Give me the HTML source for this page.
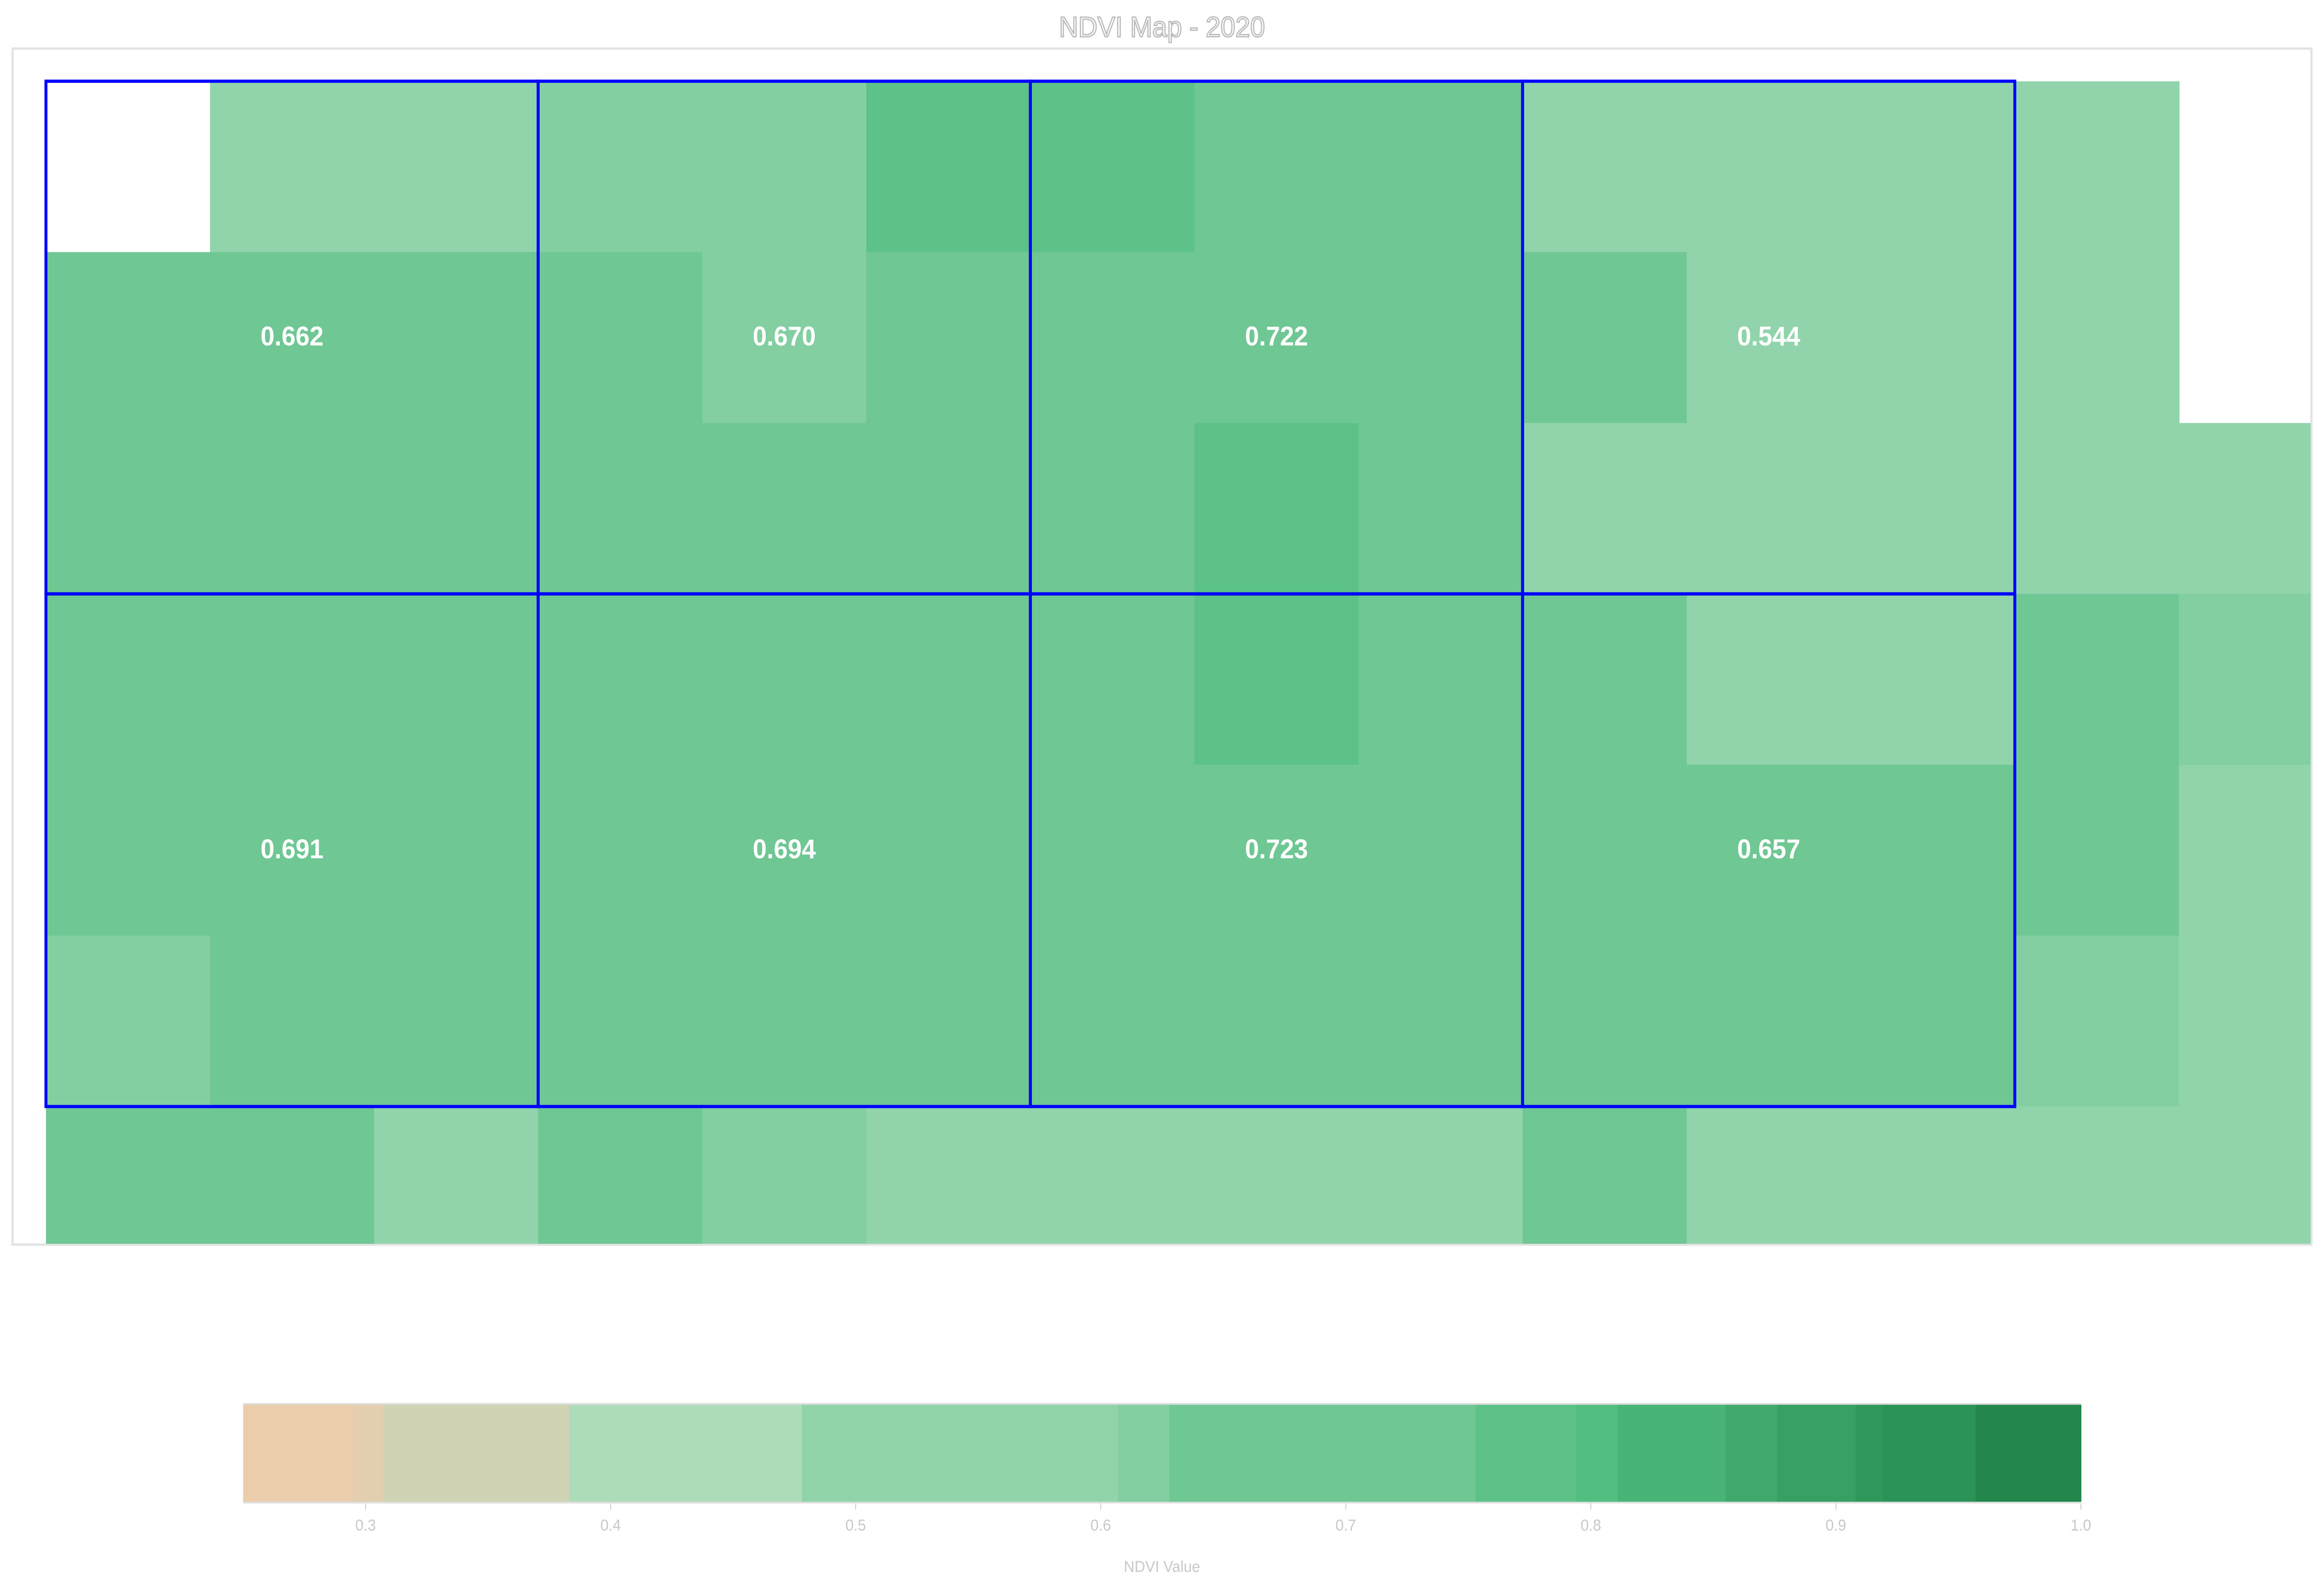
<!DOCTYPE html>
<html><head><meta charset="utf-8"><style>html,body{margin:0;padding:0;background:#fff;overflow:hidden;width:100%;height:100%}svg{display:block;width:100vw;height:100vh}</style></head>
<body>
<svg id="chart" xmlns="http://www.w3.org/2000/svg" viewBox="0 0 1568 999" preserveAspectRatio="none" font-family="Liberation Sans, DejaVu Sans, sans-serif">
<rect x="0" y="0" width="1568" height="999" fill="#fff"/>
<text x="784" y="23" text-anchor="middle" font-size="18" fill="#fff" stroke="#bbb" stroke-width="0.8">NDVI Map - 2020</text>
<rect x="8.5" y="30.5" width="1551" height="751" fill="none" stroke="#e3e3e3" stroke-width="1.5"/>
<defs><clipPath id="mapclip"><rect x="31" y="51" width="1528" height="730"/></clipPath></defs>
<g id="cells" clip-path="url(#mapclip)"></g>
<g id="blocks"></g>
<g id="cbar"></g>
<text x="784" y="987" text-anchor="middle" font-size="10" fill="#c8c8c8">NDVI Value</text>
</svg>
<script>
const cellValues = [
[null,0.55,0.55,0.615,0.62,0.77,0.77,0.70,0.70,0.55,0.55,0.55,0.55,null],
[0.69,0.69,0.69,0.69,0.62,0.69,0.70,0.70,0.70,0.70,0.55,0.55,0.55,null],
[0.69,0.69,0.69,0.69,0.69,0.69,0.70,0.77,0.70,0.55,0.55,0.55,0.55,0.55],
[0.69,0.69,0.69,0.69,0.69,0.69,0.70,0.77,0.70,0.70,0.55,0.55,0.71,0.62],
[0.69,0.69,0.69,0.69,0.69,0.69,0.70,0.70,0.70,0.70,0.70,0.70,0.71,0.55],
[0.615,0.69,0.69,0.69,0.69,0.69,0.70,0.70,0.70,0.70,0.70,0.70,0.62,0.55],
[0.69,0.69,0.55,0.70,0.615,0.55,0.55,0.55,0.55,0.70,0.55,0.55,0.55,0.55]
];
const blockLabels = [["0.662","0.670","0.722","0.544"],["0.691","0.694","0.723","0.657"]];
const scaleBreaks = [0.25,0.295,0.307,0.383,0.478,0.607,0.628,0.753,0.794,0.811,0.855,0.876,0.908,0.919,0.957,1.0];
const scaleColors = ["#eccdab","#e3ceb0","#d0d4b4","#aedcbb","#91d4ac","#83cfa2","#6fc794","#5cc288","#52be80","#48b577","#41a96c","#37a062","#31985b","#2b9357","#23874c"];
const tickValues = [0.3,0.4,0.5,0.6,0.7,0.8,0.9,1.0];
const tickLabels = ["0.3","0.4","0.5","0.6","0.7","0.8","0.9","1.0"];

const NS="http://www.w3.org/2000/svg";
const mapX0=31, mapY0=51, cellW=110.7, cellH=107.3;
const colX=c=>mapX0+c*cellW, rowY=r=>mapY0+r*cellH;
const cbX0=164, cbX1=1404, cbY=882, cbH=61, vMin=0.25, vMax=1.0;
const cbScale=v=>cbX0+(v-vMin)/(vMax-vMin)*(cbX1-cbX0);
function colorFor(v){for(let i=0;i<scaleColors.length;i++){if(v<scaleBreaks[i+1])return scaleColors[i];}return scaleColors[scaleColors.length-1];}
function mk(tag,attrs,parent){const e=document.createElementNS(NS,tag);for(const k in attrs)e.setAttribute(k,attrs[k]);parent.appendChild(e);return e;}

const gc=document.getElementById('cells');
cellValues.forEach((row,r)=>row.forEach((v,c)=>{
  if(v===null)return;
  const e=mk('rect',{x:colX(c),y:rowY(r),width:cellW+0.4,height:cellH+0.4,fill:colorFor(v)},gc);
  
  
}));

const gb=document.getElementById('blocks');
const bW=3*cellW, bH=3*cellH;
blockLabels.forEach((row,r)=>row.forEach((lab,c)=>{
  const x=mapX0+c*bW, y=mapY0+r*bH;
  const e=mk('rect',{x:x,y:y,width:bW,height:bH,fill:'none',stroke:'#0000ff','stroke-width':2},gb);
  
  
  const t=mk('text',{x:x+bW/2,y:y+bH/2+5,'text-anchor':'middle','font-size':17,'font-weight':'bold',fill:'#fff'},gb);
  t.textContent=lab;
  
  
}));

const gcb=document.getElementById('cbar');
scaleColors.forEach((col,i)=>{
  const x0=cbScale(scaleBreaks[i]), x1=cbScale(scaleBreaks[i+1]);
  const e=mk('rect',{x:x0,y:cbY,width:x1-x0+0.3,height:cbH,fill:col},gcb);
  
  
});
mk('line',{x1:cbX0,x2:cbX1,y1:cbY-0.5,y2:cbY-0.5,stroke:'#ddd','stroke-width':1},gcb);
mk('line',{x1:cbX0,x2:cbX1,y1:cbY+cbH+0.5,y2:cbY+cbH+0.5,stroke:'#ddd','stroke-width':1},gcb);
tickValues.forEach((v,i)=>{
  const x=cbScale(v);
  const l=mk('line',{x1:x,x2:x,y1:cbY+cbH+1,y2:cbY+cbH+5,stroke:'#ccc','stroke-width':0.6},gcb);
  
  
  const t=mk('text',{x:x,y:961,'text-anchor':'middle','font-size':10,fill:'#c8c8c8'},gcb);
  t.textContent=tickLabels[i];
  
  
});
</script>
</body></html>
